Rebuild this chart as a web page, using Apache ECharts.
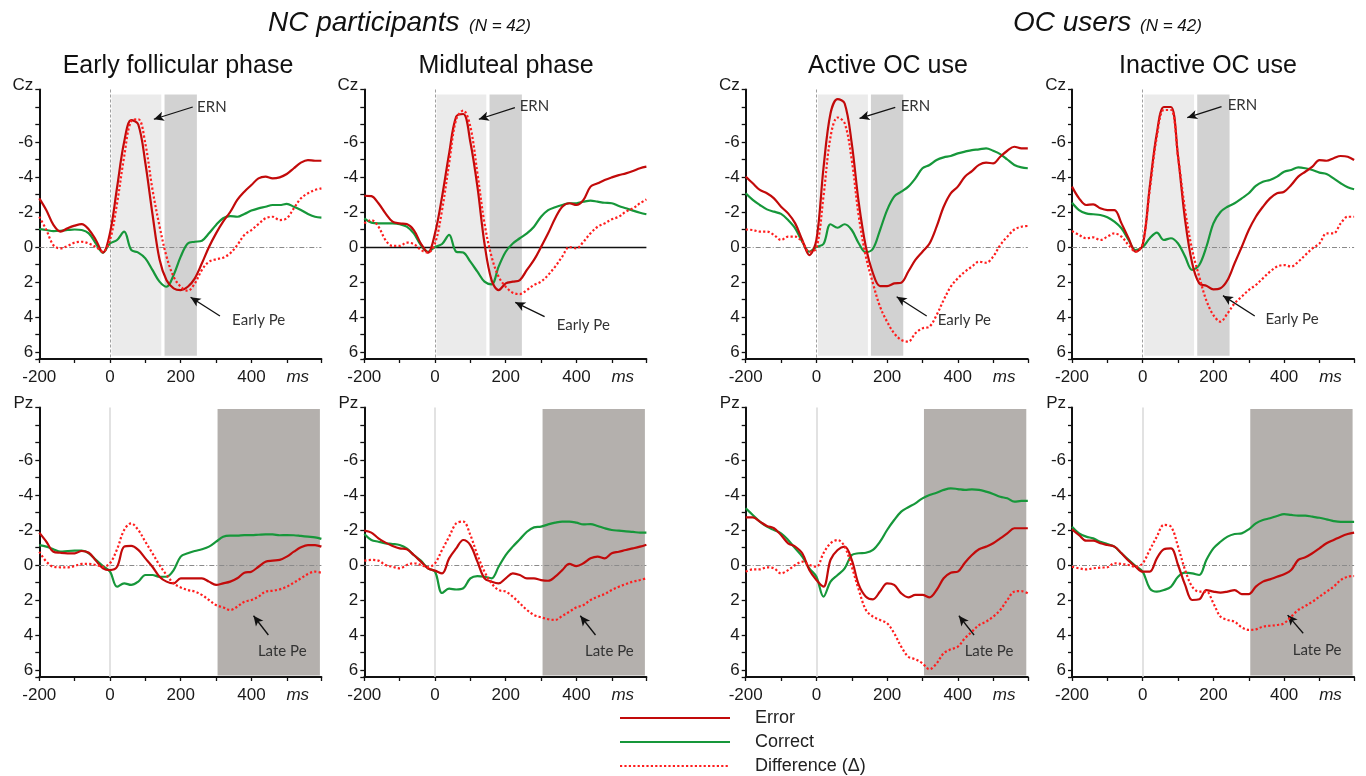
<!DOCTYPE html>
<html>
<head>
<meta charset="utf-8">
<title>ERN / Pe waveforms</title>
<script src="https://cdn.jsdelivr.net/npm/echarts@6/dist/echarts.min.js"></script>
<style>
  html, body { margin: 0; padding: 0; background: #fff; }
  #chart { width: 1366px; height: 776px; }
</style>
</head>
<body>
<div id="chart"></div>
<script>
// sample times (ms)
const times = [-200, -180, -160, -140, -120, -100, -80, -60, -40, -20,
  0, 20, 40, 60, 80, 100, 120, 140, 160, 180,
  200, 220, 240, 260, 280, 300, 320, 340, 360, 380,
  400, 420, 440, 460, 480, 500, 520, 540, 560, 580, 598]

const xLabels = [-200, 0, 200, 400]
const yLabels = [-6, -4, -2, 0, 2, 4, 6]

// analysis windows (ms)
const ernWindow = [0, 150]
const earlyPeWindow = [150, 250]
const latePeWindow = [300, 598]

// Cz, NC early follicular phase
const czFollicularError = [-2.78, -2.1, -1.26, -0.88, -1.07, -1.22, -1.31, -1.0, -0.4, 0.32,
  -0.8, -3.4, -6.0, -7.25, -7.0, -4.8, -1.9, 0.7, 1.9, 2.36,
  2.46, 2.27, 1.79, 0.93, 0, -0.78, -1.45, -2.0, -2.69, -3.16,
  -3.54, -3.92, -4.02, -3.92, -3.98, -4.17, -4.5, -4.82, -4.97, -4.93, -4.93]
const czFollicularCorrect = [-1.03, -0.97, -0.91, -0.93, -0.97, -1.0, -0.97, -0.78, -0.2, 0.32,
  -0.2, -0.4, -0.88, 0.17, 0.32, 0.65, 1.31, 1.98, 2.27, 1.6,
  0.55, -0.2, -0.3, -0.36, -0.78, -1.26, -1.64, -1.77, -1.73, -1.89,
  -2.08, -2.21, -2.3, -2.4, -2.4, -2.46, -2.3, -2.11, -1.89, -1.73, -1.68]
const czFollicularDiff = [-1.73, -0.97, -0.1, 0.08, -0.06, -0.25, -0.3, -0.2, 0, 0.27,
  -0.4, -2.5, -5.16, -7.2, -7.3, -5.9, -3.3, -1.2, 0.55, 1.7,
  2.27, 2.5, 2.08, 1.31, 0.84, 0.7, 0.61, 0.36, -0.11, -0.69,
  -0.97, -1.31, -1.64, -1.73, -1.54, -1.64, -2.21, -2.78, -3.07, -3.26, -3.35]

// Cz, NC midluteal phase
const czLutealError = [-2.93, -2.91, -2.5, -1.92, -1.45, -1.35, -1.31, -0.97, -0.2, 0.32,
  -0.78, -2.88, -5.35, -7.45, -7.6, -6.0, -3.45, -0.2, 1.89, 2.46,
  2.08, 1.98, 1.89, 1.31, 0.74, 0, -0.78, -1.64, -2.3, -2.5,
  -2.4, -2.69, -3.45, -3.64, -3.83, -3.98, -4.11, -4.21, -4.34, -4.5, -4.59]
const czLutealCorrect = [-1.64, -1.39, -1.35, -1.35, -1.35, -1.31, -1.16, -0.78, -0.11, 0.27,
  0, -0.17, -0.69, 0.27, 0.32, 0.84, 1.41, 1.98, 2.13, 1.12,
  0.27, -0.2, -0.5, -0.78, -1.16, -1.73, -2.11, -2.27, -2.4, -2.5,
  -2.5, -2.59, -2.65, -2.59, -2.53, -2.5, -2.34, -2.21, -2.08, -1.96, -1.87]
const czLutealDiff = [-1.35, -1.54, -1.16, -0.4, -0.06, -0.06, -0.25, -0.17, 0.17, 0.32,
  -0.2, -2.11, -4.78, -7.3, -7.8, -6.88, -4.21, -1.35, 0.55, 1.7,
  2.27, 2.61, 2.69, 2.46, 2.17, 1.98, 1.6, 1.12, 0.55, 0,
  0.08, -0.3, -0.78, -1.16, -1.35, -1.58, -1.73, -2.02, -2.21, -2.5, -2.72]

// Cz, OC active use
const czActiveError = [-4.02, -3.64, -3.26, -3.07, -2.78, -2.3, -1.92, -1.35, -0.4, 0.46,
  -0.4, -4.5, -7.64, -8.45, -8.2, -5.92, -2.5, 0, 1.5, 2.23,
  2.23, 2.08, 2.04, 1.4, 0.74, 0.27, -0.2, -1.16, -2.3, -3.07,
  -3.45, -4.02, -4.34, -4.69, -4.82, -4.78, -5.16, -5.5, -5.73, -5.64, -5.64]
const czActiveCorrect = [-3.07, -2.69, -2.4, -2.15, -2.02, -1.89, -1.54, -1.07, -0.3, 0.27,
  0, -0.17, -1.3, -1.1, -1.3, -0.97, -0.2, 0.3, 0.1, -0.97,
  -2.11, -2.88, -3.16, -3.45, -3.92, -4.5, -4.69, -4.97, -5.12, -5.2,
  -5.35, -5.45, -5.54, -5.58, -5.64, -5.5, -5.31, -5.0, -4.69, -4.55, -4.5]
const czActiveDiff = [-1.0, -0.97, -0.88, -0.88, -0.69, -0.4, -0.59, -0.59, -0.3, 0.27,
  0.08, -2.88, -6.3, -7.4, -7.07, -4.97, -1.73, 0.55, 2.08, 3.41,
  4.27, 4.93, 5.31, 5.41, 4.93, 4.65, 4.55, 3.89, 3.03, 2.27,
  1.79, 1.41, 1.12, 0.84, 0.9, 0.55, -0.11, -0.59, -1.0, -1.16, -1.2]

// Cz, OC inactive use
const czInactiveError = [-3.45, -2.78, -2.4, -2.44, -2.21, -2.11, -2.11, -1.35, -0.5, 0.27,
  -0.11, -3.45, -6.5, -8.0, -8.0, -5.16, -1.54, 0.93, 2.08, 2.21,
  2.42, 2.36, 1.89, 0.93, 0, -0.97, -1.73, -2.3, -2.78, -3.07,
  -3.16, -3.54, -4.02, -4.3, -4.59, -4.97, -4.93, -5.07, -5.2, -5.16, -4.97]
const czInactiveCorrect = [-2.53, -2.11, -1.92, -1.87, -1.83, -1.7, -1.45, -1.07, -0.4, 0.17,
  0, -0.5, -0.82, -0.4, -0.5, -0.2, 0.55, 1.31, 1.03, 0,
  -1.35, -2.0, -2.3, -2.5, -2.78, -3.07, -3.49, -3.73, -3.83, -4.02,
  -4.3, -4.4, -4.55, -4.5, -4.4, -4.25, -4.17, -3.92, -3.64, -3.41, -3.3]
const czInactiveDiff = [-0.91, -0.69, -0.5, -0.55, -0.4, -0.59, -0.78, -0.59, -0.11, 0.27,
  -0.2, -3.26, -6.3, -7.83, -7.83, -5.16, -2.11, 0.17, 1.7, 3.05,
  3.89, 4.27, 3.79, 3.22, 2.84, 2.46, 2.17, 1.79, 1.41, 1.12,
  1.03, 1.12, 0.84, 0.46, 0.08, -0.2, -0.78, -0.78, -1.35, -1.73, -1.73]

// Pz, NC early follicular phase
const pzFollicularError = [-1.85, -1.33, -0.76, -0.7, -0.67, -0.67, -0.8, -0.7, -0.25, 0.19,
  0.29, 0.1, -1.05, -1.09, -0.86, -0.38, 0.1, 0.67, 0.95, 1.05,
  0.76, 0.76, 0.76, 0.76, 0.95, 1.14, 1.05, 0.95, 0.76, 0.44,
  0.38, 0.1, -0.19, -0.25, -0.29, -0.48, -0.76, -1.01, -1.14, -1.14, -1.05]
const pzFollicularCorrect = [-1.14, -1.05, -0.9, -0.76, -0.8, -0.82, -0.82, -0.67, -0.29, 0.06,
  0.38, 1.24, 1.05, 1.14, 0.95, 0.57, 0.57, 0.67, 0.67, 0.29,
  -0.48, -0.67, -0.8, -0.9, -1.05, -1.33, -1.62, -1.68, -1.68, -1.71,
  -1.71, -1.73, -1.75, -1.75, -1.7, -1.71, -1.7, -1.66, -1.62, -1.58, -1.49]
const pzFollicularDiff = [-0.76, -0.19, 0.1, 0.13, 0.13, 0.06, -0.06, -0.06, 0, 0.1,
  -0.1, -0.9, -2.0, -2.38, -2.0, -1.33, -0.67, 0, 0.57, 1.05,
  1.28, 1.43, 1.52, 1.71, 2.0, 2.29, 2.42, 2.57, 2.38, 2.1,
  2.0, 1.81, 1.52, 1.47, 1.39, 1.24, 1.01, 0.76, 0.51, 0.38, 0.44]

// Pz, NC midluteal phase
const pzLutealError = [-1.96, -1.85, -1.52, -1.28, -1.09, -0.95, -0.9, -0.57, -0.19, 0.19,
  0.32, 0.48, -0.38, -0.95, -1.43, -1.14, -0.19, 0.76, 0.95, 1.05,
  0.76, 0.48, 0.57, 0.76, 0.76, 0.86, 0.9, 0.67, 0.29, -0.06,
  0.06, -0.1, -0.38, -0.48, -0.38, -0.67, -0.76, -0.86, -0.95, -1.05, -1.16]
const pzLutealCorrect = [-1.77, -1.43, -1.33, -1.24, -1.2, -1.14, -0.95, -0.57, -0.25, 0.19,
  0.38, 1.6, 1.35, 1.4, 1.33, 0.76, 0.63, 0.67, 0.76, 0.1,
  -0.57, -1.05, -1.47, -1.9, -2.15, -2.19, -2.32, -2.42, -2.48, -2.48,
  -2.42, -2.32, -2.34, -2.23, -2.1, -2.0, -1.96, -1.92, -1.89, -1.85, -1.85]
const pzLutealDiff = [-0.25, -0.29, -0.25, 0, 0.1, 0.19, 0, -0.1, 0, 0.13,
  -0.1, -0.86, -1.62, -2.38, -2.48, -1.71, -0.57, 0.38, 1.05, 1.43,
  1.52, 1.81, 2.19, 2.57, 2.86, 2.99, 3.1, 3.14, 2.91, 2.67,
  2.42, 2.29, 2.0, 1.81, 1.66, 1.43, 1.24, 1.09, 0.95, 0.86, 0.76]

// Pz, OC active use
const pzActiveError = [-2.72, -2.72, -2.48, -2.23, -2.1, -1.71, -1.24, -1.05, -0.67, 0.29,
  0.86, 1.24, -0.3, -0.86, -1.05, -0.29, 1.14, 1.81, 1.96, 1.52,
  1.05, 1.14, 1.62, 1.85, 1.71, 1.71, 1.85, 1.43, 0.76, 0.44,
  0.38, -0.13, -0.57, -0.9, -1.05, -1.24, -1.52, -1.81, -2.1, -2.1, -2.1]
const pzActiveCorrect = [-3.24, -2.86, -2.48, -2.19, -2.0, -1.81, -1.43, -0.95, -0.48, 0.19,
  0.67, 1.81, 0.95, 0.57, 0.19, -0.57, -0.67, -0.7, -0.86, -1.33,
  -2.0, -2.57, -3.05, -3.3, -3.52, -3.81, -4.0, -4.13, -4.29, -4.38,
  -4.34, -4.29, -4.32, -4.29, -4.19, -4.06, -3.9, -3.81, -3.62, -3.66, -3.66]
const pzActiveDiff = [0.38, 0.25, 0.25, 0.13, 0.19, 0.48, 0.29, 0, -0.19, 0,
  0.1, -0.67, -1.24, -1.43, -1.05, 0.1, 1.43, 2.57, 2.95, 3.14,
  3.33, 3.9, 4.67, 5.24, 5.39, 5.62, 5.96, 5.62, 5.05, 4.82,
  4.67, 4.19, 3.81, 3.43, 3.24, 2.95, 2.57, 2.0, 1.52, 1.49, 1.62]

// Pz, OC inactive use
const pzInactiveError = [-2.04, -1.71, -1.39, -1.39, -1.24, -1.14, -1.05, -0.67, -0.25, 0.1,
  0.38, 0.38, -0.38, -0.9, -0.95, 0, 1.14, 2.0, 1.96, 1.43,
  1.52, 1.58, 1.52, 1.43, 1.66, 1.66, 1.24, 0.95, 0.82, 0.67,
  0.53, 0.29, -0.29, -0.44, -0.67, -0.95, -1.24, -1.43, -1.62, -1.77, -1.85]
const pzInactiveCorrect = [-2.19, -1.81, -1.62, -1.52, -1.33, -1.2, -1.05, -0.67, -0.29, 0.06,
  0.38, 1.33, 1.52, 1.43, 1.24, 0.67, 0.44, 0.48, 0.57, -0.29,
  -0.95, -1.33, -1.62, -1.77, -1.81, -2.04, -2.38, -2.57, -2.67, -2.8,
  -2.91, -2.86, -2.82, -2.82, -2.76, -2.7, -2.61, -2.51, -2.46, -2.46, -2.46]
const pzInactiveDiff = [0.1, 0.19, 0.25, 0.19, 0.15, 0.13, -0.1, -0.06, 0, 0.1,
  -0.1, -0.86, -1.62, -2.29, -2.19, -1.05, 0.29, 1.24, 1.52, 1.52,
  2.19, 2.95, 3.14, 3.24, 3.56, 3.71, 3.68, 3.52, 3.47, 3.43,
  3.33, 2.95, 2.57, 2.34, 2.1, 1.81, 1.52, 1.24, 0.86, 0.67, 0.63]

const FONT = '"Liberation Sans", Arial, sans-serif'
const NOTE_FONT = 'Lato, "Liberation Sans", sans-serif'
const ERROR_COLOR = '#c20a0a'
const CORRECT_COLOR = '#16973a'
const DIFF_COLOR = '#ff1e1e'

const LEFTS = [39.3, 364.3, 745.7, 1072]
const TOPS = [89.5, 407.5]
const GRID_W = 282.1
const GRID_H = 269.5

// panel layout + annotation anchors (ms, µV)
const panels = [
  { row: 0, col: 0, site: 'Cz', err: czFollicularError, cor: czFollicularCorrect, dif: czFollicularDiff,
    notes: [{ text: 'ERN', at: [245, -8.0], from: [234, -8.0], to: [124, -7.3] },
            { text: 'Early Pe', at: [344, 4.2], from: [311, 3.94], to: [228, 2.87] }] },
  { row: 0, col: 1, site: 'Cz', err: czLutealError, cor: czLutealCorrect, dif: czLutealDiff, solidZero: true,
    notes: [{ text: 'ERN', at: [238, -8.06], from: [226, -7.96], to: [124, -7.3] },
            { text: 'Early Pe', at: [343, 4.46], from: [310, 3.98], to: [227, 3.16] }] },
  { row: 0, col: 2, site: 'Cz', err: czActiveError, cor: czActiveCorrect, dif: czActiveDiff,
    notes: [{ text: 'ERN', at: [237, -8.06], from: [223, -7.98], to: [122, -7.35] },
            { text: 'Early Pe', at: [342, 4.2], from: [312, 3.94], to: [227, 2.84] }] },
  { row: 0, col: 3, site: 'Cz', err: czInactiveError, cor: czInactiveCorrect, dif: czInactiveDiff,
    notes: [{ text: 'ERN', at: [239, -8.1], from: [223, -8.02], to: [126, -7.39] },
            { text: 'Early Pe', at: [346, 4.1], from: [317, 3.94], to: [227, 2.78] }] },
  { row: 1, col: 0, site: 'Pz', err: pzFollicularError, cor: pzFollicularCorrect, dif: pzFollicularDiff,
    notes: [{ text: 'Late Pe', at: [417, 4.9], from: [448, 4.0], to: [406, 2.9] }] },
  { row: 1, col: 1, site: 'Pz', err: pzLutealError, cor: pzLutealCorrect, dif: pzLutealDiff,
    notes: [{ text: 'Late Pe', at: [423, 4.95], from: [454, 4.0], to: [411, 2.9] }] },
  { row: 1, col: 2, site: 'Pz', err: pzActiveError, cor: pzActiveCorrect, dif: pzActiveDiff,
    notes: [{ text: 'Late Pe', at: [418, 4.95], from: [446, 4.0], to: [403, 2.9] }] },
  { row: 1, col: 3, site: 'Pz', err: pzInactiveError, cor: pzInactiveCorrect, dif: pzInactiveDiff,
    notes: [{ text: 'Late Pe', at: [423, 4.86], from: [454, 3.9], to: [410, 2.86] }] }
]

const labelStyle = { fontSize: 17, color: '#1a1a1a', fontFamily: FONT }

function toPoints (values) {
  return times.map((t, i) => [t, values[i]])
}

function curve (name, values, color, type, i) {
  return {
    name: name,
    type: 'line',
    xAxisIndex: i,
    yAxisIndex: i,
    data: toPoints(values),
    smooth: 0.35,
    symbol: 'none',
    z: 3,
    lineStyle: { color: color, width: 2.2, type: type },
    itemStyle: { color: color },
    emphasis: { disabled: true }
  }
}

let grids = []
let xAxes = []
let yAxes = []
let series = []

panels.forEach((p, i) => {
  grids.push({ left: LEFTS[p.col], top: TOPS[p.row], width: GRID_W, height: GRID_H, outerBoundsMode: 'none' })
  xAxes.push({
    gridIndex: i, type: 'value', min: -200, max: 598, interval: 100,
    axisLine: { show: true, onZero: false, lineStyle: { color: '#111', width: 2 } },
    axisTick: { show: true, length: 4, lineStyle: { color: '#111', width: 1.3 } },
    splitLine: { show: false },
    axisLabel: Object.assign({}, labelStyle, {
      margin: 10,
      showMinLabel: true,
      showMaxLabel: true,
      formatter: v => xLabels.indexOf(v) >= 0 ? String(v) : (v === 500 ? '{i|ms}' : ''),
      rich: { i: Object.assign({}, labelStyle, { fontStyle: 'italic', padding: [0, 0, 0, 22] }) }
    })
  })
  yAxes.push({
    gridIndex: i, type: 'value', inverse: true, min: -9, max: 6.4, interval: 1,
    name: p.site, nameLocation: 'start', nameGap: 4,
    nameTextStyle: Object.assign({}, labelStyle, { align: 'right', verticalAlign: 'middle', padding: [0, 6, 0, 0] }),
    axisLine: { show: true, onZero: false, lineStyle: { color: '#111', width: 2 } },
    axisTick: { show: true, length: 4, lineStyle: { color: '#111', width: 1.3 } },
    splitLine: { show: false },
    axisLabel: Object.assign({}, labelStyle, {
      margin: 6,
      formatter: v => yLabels.indexOf(v) >= 0 ? String(v) : ''
    })
  })

  // shaded windows
  let areas
  if (p.row === 0) {
    areas = [
      [{ xAxis: ernWindow[0], yAxis: -8.8, itemStyle: { color: '#ebebeb' } }, { xAxis: ernWindow[1], yAxis: 6.3 }],
      [{ xAxis: earlyPeWindow[0], yAxis: -8.8, itemStyle: { color: '#d2d2d2' } }, { xAxis: earlyPeWindow[1], yAxis: 6.3 }]
    ]
  } else {
    areas = [
      [{ xAxis: latePeWindow[0], yAxis: -9, itemStyle: { color: '#b4b0ad' } }, { xAxis: latePeWindow[1], yAxis: 6.4 }]
    ]
  }

  // zero lines + arrows
  let lines = [
    { yAxis: 0, lineStyle: p.solidZero
      ? { color: '#111', width: 1.3, type: 'solid' }
      : { color: '#8a8a8a', width: 1, type: [5, 2, 1, 2] } },
    { xAxis: 0, lineStyle: p.row === 0
      ? { color: '#a0a0a0', width: 1, type: [3, 2] }
      : { color: '#d8d8d8', width: 1.5, type: 'solid' } }
  ]
  p.notes.forEach(n => {
    lines.push([
      { coord: n.from, symbol: 'none', lineStyle: { color: '#111', width: 1.3, type: 'solid' } },
      { coord: n.to, symbol: 'arrow', symbolSize: [7, 10] }
    ])
  })

  series.push({
    name: 'marks',
    type: 'line',
    xAxisIndex: i,
    yAxisIndex: i,
    data: [],
    silent: true,
    markArea: {
      silent: true,
      z: 0,
      itemStyle: { borderColor: '#fff', borderWidth: 3 },
      data: areas
    },
    markLine: {
      silent: true,
      z: 1,
      symbol: ['none', 'none'],
      label: { show: false },
      emphasis: { disabled: true },
      data: lines
    },
    markPoint: {
      silent: true,
      symbol: 'rect',
      symbolSize: 1,
      itemStyle: { color: 'rgba(0,0,0,0)' },
      label: {
        show: true, position: 'right', distance: 0, formatter: '{b}',
        fontFamily: NOTE_FONT, fontSize: 15, color: '#333'
      },
      data: p.notes.map(n => ({ name: n.text, coord: n.at }))
    }
  })
  series.push(curve('Correct', p.cor, CORRECT_COLOR, 'solid', i))
  series.push(curve('Error', p.err, ERROR_COLOR, 'solid', i))
  series.push(curve('Difference (Δ)', p.dif, DIFF_COLOR, [2.2, 2.2], i))
})

const titleStyle = { fontFamily: FONT, color: '#111', fontWeight: 'normal' }
const titles = [
  { text: 'NC participants', left: 268, top: 9, textStyle: Object.assign({}, titleStyle, { fontSize: 28, fontStyle: 'italic' }) },
  { text: '(N = 42)', left: 469, top: 18, textStyle: Object.assign({}, titleStyle, { fontSize: 17, fontStyle: 'italic' }) },
  { text: 'OC users', left: 1013, top: 9, textStyle: Object.assign({}, titleStyle, { fontSize: 28, fontStyle: 'italic' }) },
  { text: '(N = 42)', left: 1140, top: 18, textStyle: Object.assign({}, titleStyle, { fontSize: 17, fontStyle: 'italic' }) },
  { text: 'Early follicular phase', left: 178, top: 54, textAlign: 'center', textStyle: Object.assign({}, titleStyle, { fontSize: 25 }) },
  { text: 'Midluteal phase', left: 506, top: 54, textAlign: 'center', textStyle: Object.assign({}, titleStyle, { fontSize: 25 }) },
  { text: 'Active OC use', left: 888, top: 54, textAlign: 'center', textStyle: Object.assign({}, titleStyle, { fontSize: 25 }) },
  { text: 'Inactive OC use', left: 1208, top: 54, textAlign: 'center', textStyle: Object.assign({}, titleStyle, { fontSize: 25 }) }
].map(t => Object.assign({ padding: 0 }, t))

let myChart = echarts.init(document.getElementById('chart'))
myChart.setOption({
  animation: false,
  backgroundColor: '#fff',
  title: titles,
  legend: {
    orient: 'vertical',
    left: 619,
    top: 709,
    padding: 0,
    itemWidth: 110,
    itemHeight: 14,
    itemGap: 6,
    selectedMode: false,
    // hide the symbol in the middle of the legend line
    itemStyle: { opacity: 0 },
    data: ['Error', 'Correct', 'Difference (Δ)'],
    formatter: name => '{t|' + name + '}',
    textStyle: {
      rich: { t: { fontSize: 18, fontFamily: FONT, color: '#222', padding: [0, 0, 0, 20] } }
    }
  },
  grid: grids,
  xAxis: xAxes,
  yAxis: yAxes,
  series: series
})
window.addEventListener('resize', function () {
  myChart.resize()
})
</script>
</body>
</html>
